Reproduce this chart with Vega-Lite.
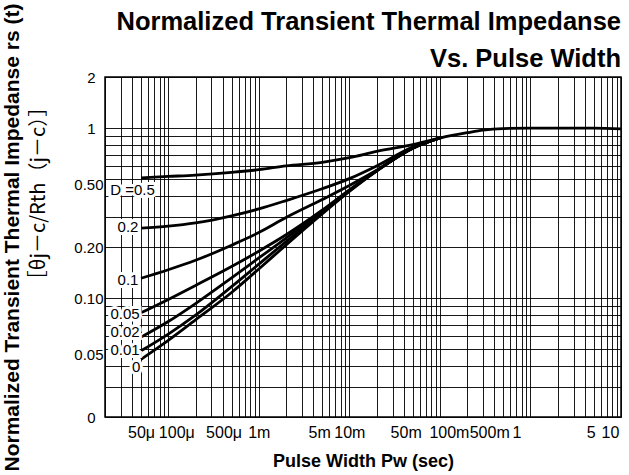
{
  "$schema": "https://vega.github.io/schema/vega-lite/v6.json",
  "autosize": {"type": "none"},
  "padding": {"left": 105, "top": 77, "right": 8, "bottom": 58},
  "width": 516,
  "height": 340,
  "background": "white",
  "config": {"view": {"stroke": "black", "strokeWidth": 1.5}, "font": "Liberation Sans"},
  "title": {
    "text": ["Normalized Transient Thermal Impedanse", "Vs. Pulse Width"],
    "anchor": "end",
    "frame": "group",
    "font": "Liberation Sans",
    "fontSize": 25.5,
    "fontWeight": "bold",
    "lineHeight": 37,
    "offset": 5,
    "dy": 74,
    "color": "black"
  },
  "datasets": {
    "curves": [
      {"D": "0.5", "x": 0.00005, "y": 0.51},
      {"D": "0.5", "x": 0.0001, "y": 0.52},
      {"D": "0.5", "x": 0.0002, "y": 0.53},
      {"D": "0.5", "x": 0.0005, "y": 0.55},
      {"D": "0.5", "x": 0.001, "y": 0.57},
      {"D": "0.5", "x": 0.002, "y": 0.6},
      {"D": "0.5", "x": 0.005, "y": 0.63},
      {"D": "0.5", "x": 0.01, "y": 0.67},
      {"D": "0.5", "x": 0.02, "y": 0.73},
      {"D": "0.5", "x": 0.05, "y": 0.8},
      {"D": "0.5", "x": 0.1, "y": 0.875},
      {"D": "0.5", "x": 0.2, "y": 0.94},
      {"D": "0.5", "x": 0.3, "y": 0.975},
      {"D": "0.5", "x": 0.5, "y": 0.995},
      {"D": "0.5", "x": 1, "y": 1.0},
      {"D": "0.5", "x": 2, "y": 1.0},
      {"D": "0.5", "x": 5, "y": 1.0},
      {"D": "0.5", "x": 10, "y": 0.99},
      {"D": "0.2", "x": 0.00005, "y": 0.258},
      {"D": "0.2", "x": 0.0001, "y": 0.265},
      {"D": "0.2", "x": 0.0002, "y": 0.277},
      {"D": "0.2", "x": 0.0005, "y": 0.305},
      {"D": "0.2", "x": 0.001, "y": 0.335},
      {"D": "0.2", "x": 0.002, "y": 0.375},
      {"D": "0.2", "x": 0.005, "y": 0.44},
      {"D": "0.2", "x": 0.01, "y": 0.505},
      {"D": "0.2", "x": 0.02, "y": 0.6},
      {"D": "0.2", "x": 0.05, "y": 0.775},
      {"D": "0.2", "x": 0.1, "y": 0.875},
      {"D": "0.1", "x": 0.00005, "y": 0.131},
      {"D": "0.1", "x": 0.0001, "y": 0.147},
      {"D": "0.1", "x": 0.0002, "y": 0.167},
      {"D": "0.1", "x": 0.0005, "y": 0.205},
      {"D": "0.1", "x": 0.001, "y": 0.243},
      {"D": "0.1", "x": 0.002, "y": 0.298},
      {"D": "0.1", "x": 0.005, "y": 0.38},
      {"D": "0.1", "x": 0.01, "y": 0.46},
      {"D": "0.1", "x": 0.02, "y": 0.565},
      {"D": "0.1", "x": 0.05, "y": 0.765},
      {"D": "0.1", "x": 0.1, "y": 0.875},
      {"D": "0.05", "x": 0.00005, "y": 0.082},
      {"D": "0.05", "x": 0.0001, "y": 0.0983},
      {"D": "0.05", "x": 0.0002, "y": 0.1188},
      {"D": "0.05", "x": 0.0005, "y": 0.1535},
      {"D": "0.05", "x": 0.001, "y": 0.189},
      {"D": "0.05", "x": 0.002, "y": 0.236},
      {"D": "0.05", "x": 0.005, "y": 0.329},
      {"D": "0.05", "x": 0.01, "y": 0.434},
      {"D": "0.05", "x": 0.02, "y": 0.563},
      {"D": "0.05", "x": 0.05, "y": 0.763},
      {"D": "0.05", "x": 0.1, "y": 0.875},
      {"D": "0.02", "x": 0.00005, "y": 0.059},
      {"D": "0.02", "x": 0.0001, "y": 0.0729},
      {"D": "0.02", "x": 0.0002, "y": 0.093},
      {"D": "0.02", "x": 0.0005, "y": 0.1317},
      {"D": "0.02", "x": 0.001, "y": 0.1724},
      {"D": "0.02", "x": 0.002, "y": 0.2257},
      {"D": "0.02", "x": 0.005, "y": 0.322},
      {"D": "0.02", "x": 0.01, "y": 0.43},
      {"D": "0.02", "x": 0.02, "y": 0.562},
      {"D": "0.02", "x": 0.05, "y": 0.762},
      {"D": "0.02", "x": 0.1, "y": 0.875},
      {"D": "0.01", "x": 0.00005, "y": 0.049},
      {"D": "0.01", "x": 0.0001, "y": 0.0615},
      {"D": "0.01", "x": 0.0002, "y": 0.0795},
      {"D": "0.01", "x": 0.0005, "y": 0.1169},
      {"D": "0.01", "x": 0.001, "y": 0.1586},
      {"D": "0.01", "x": 0.002, "y": 0.2152},
      {"D": "0.01", "x": 0.005, "y": 0.318},
      {"D": "0.01", "x": 0.01, "y": 0.428},
      {"D": "0.01", "x": 0.02, "y": 0.561},
      {"D": "0.01", "x": 0.05, "y": 0.761},
      {"D": "0.01", "x": 0.1, "y": 0.875},
      {"D": "0", "x": 0.00005, "y": 0.0437},
      {"D": "0", "x": 0.0001, "y": 0.0565},
      {"D": "0", "x": 0.0002, "y": 0.0746},
      {"D": "0", "x": 0.0005, "y": 0.108},
      {"D": "0", "x": 0.001, "y": 0.1485},
      {"D": "0", "x": 0.002, "y": 0.2057},
      {"D": "0", "x": 0.005, "y": 0.313},
      {"D": "0", "x": 0.01, "y": 0.425},
      {"D": "0", "x": 0.02, "y": 0.56},
      {"D": "0", "x": 0.05, "y": 0.76},
      {"D": "0", "x": 0.1, "y": 0.875}
    ],
    "labels": [
      {"label": "D =0.5", "x": 0.0000403, "y": 0.433},
      {"label": "0.2", "x": 0.0000359, "y": 0.263},
      {"label": "0.1", "x": 0.0000359, "y": 0.128},
      {"label": "0.05", "x": 0.0000333, "y": 0.0807},
      {"label": "0.02", "x": 0.0000333, "y": 0.0635},
      {"label": "0.01", "x": 0.0000333, "y": 0.0495},
      {"label": "0", "x": 0.0000443, "y": 0.0395}
    ]
  },
  "layer": [
    {
      "data": {"name": "curves"},
      "mark": {"type": "line", "interpolate": "monotone", "strokeWidth": 2.8, "color": "black"},
      "encoding": {
        "x": {
          "field": "x", "type": "quantitative",
          "scale": {"type": "log", "domain": [0.00002, 10], "nice": false},
          "axis": {
            "values": [0.00002,0.00003,0.00004,0.00005,0.00006,0.00007,0.00008,0.00009,
                       0.0001,0.0002,0.0003,0.0004,0.0005,0.0006,0.0007,0.0008,0.0009,
                       0.001,0.002,0.003,0.004,0.005,0.006,0.007,0.008,0.009,
                       0.01,0.02,0.03,0.04,0.05,0.06,0.07,0.08,0.09,
                       0.1,0.2,0.3,0.4,0.5,0.6,0.7,0.8,0.9,
                       1,2,3,4,5,6,7,8,9,10],
            "labelExpr": "datum.value==0.00005?'50μ':datum.value==0.0001?'100μ':datum.value==0.0005?'500μ':datum.value==0.001?'1m':datum.value==0.005?'5m':datum.value==0.01?'10m':datum.value==0.05?'50m':datum.value==0.1?'100m':datum.value==0.5?'500m':datum.value==1?'1':datum.value==5?'5':datum.value==10?'10':''",
            "grid": true, "gridColor": "black", "gridWidth": 1, "gridOpacity": 0.9,
            "ticks": false, "domain": false,
            "labelFont": "Liberation Sans", "labelFontSize": 16, "labelColor": "black",
            "labelPadding": 7,
            "labelOffset": {
              "condition": [
                {"test": "datum.value==0.0001", "value": 8},
                {"test": "datum.value==0.0005", "value": -8},
                {"test": "datum.value==0.005", "value": -3},
                {"test": "datum.value==0.05", "value": -7},
                {"test": "datum.value==0.1", "value": 9},
                {"test": "datum.value==0.5", "value": -14},
                {"test": "datum.value==1", "value": -14},
                {"test": "datum.value==5", "value": -3},
                {"test": "datum.value==10", "value": -11}
              ],
              "value": 0
            },
            "labelOverlap": false, "labelBound": false, "labelFlush": false,
            "title": "Pulse Width Pᴡ (sec)",
            "titleFont": "Liberation Sans", "titleFontSize": 18, "titleFontWeight": "bold",
            "titleColor": "black", "titlePadding": 12
          }
        },
        "y": {
          "field": "y", "type": "quantitative",
          "scale": {"type": "log", "domain": [0.02, 2], "nice": false},
          "axis": {
            "orient": "left",
            "values": [0.02,0.03,0.04,0.05,0.06,0.07,0.08,0.09,0.1,0.2,0.3,0.4,0.5,0.6,0.7,0.8,0.9,1,2],
            "labelExpr": "datum.value==2?'2':datum.value==1?'1':datum.value==0.5?'0.50':datum.value==0.2?'0.20':datum.value==0.1?'0.10':datum.value==0.05?'0.05':datum.value==0.02?'0':''",
            "grid": true, "gridColor": "black", "gridWidth": 1, "gridOpacity": 0.9,
            "ticks": false, "domain": false,
            "labelFont": "Liberation Sans", "labelFontSize": 15, "labelColor": "black",
            "labelPadding": {"condition": {"test": "datum.value==2 || datum.value==1 || datum.value==0.02", "value": 10}, "value": 2},
            "labelOffset": {"condition": {"test": "datum.value==0.5 || datum.value==0.05", "value": 5}, "value": 0},
            "labelOverlap": false, "labelBound": false, "labelFlush": false,
            "title": "［θj－c/Rth（j－c）］",
            "titleFont": "Noto Sans CJK JP", "titleFontWeight": "normal", "titleFontSize": 20,
            "titleColor": "black",
            "titleX": -67, "titleY": 116, "titleAngle": -90,
            "titleBaseline": "middle", "titleAlign": "center"
          }
        },
        "detail": {"field": "D"}
      }
    },
    {
      "data": {"name": "labels"},
      "mark": {"type": "text", "fontSize": 15, "font": "Liberation Sans", "align": "center", "baseline": "middle", "stroke": "white", "strokeWidth": 6, "fill": "white"},
      "encoding": {
        "x": {"field": "x", "type": "quantitative", "scale": {"type": "log", "domain": [0.00002, 10], "nice": false}},
        "y": {
          "field": "y", "type": "quantitative",
          "scale": {"type": "log", "domain": [0.02, 2], "nice": false},
          "axis": {
            "orient": "left",
            "labels": false, "ticks": false, "domain": false, "grid": false,
            "title": "Normalized Transient Thermal Impedanse rs (t)",
            "titleFont": "Liberation Sans", "titleFontSize": 21, "titleFontWeight": "bold",
            "titleColor": "black",
            "titleX": -93, "titleY": 160, "titleAngle": -90,
            "titleBaseline": "middle", "titleAlign": "center"
          }
        },
        "text": {"field": "label"}
      }
    },
    {
      "data": {"name": "labels"},
      "mark": {"type": "text", "fontSize": 15, "font": "Liberation Sans", "align": "center", "baseline": "middle", "color": "black"},
      "encoding": {
        "x": {"field": "x", "type": "quantitative", "scale": {"type": "log", "domain": [0.00002, 10], "nice": false}},
        "y": {
          "field": "y", "type": "quantitative",
          "scale": {"type": "log", "domain": [0.02, 2], "nice": false},
          "axis": null
        },
        "text": {"field": "label"}
      }
    }
  ],
  "resolve": {"scale": {"y": "independent"}, "axis": {"y": "independent"}}
}
